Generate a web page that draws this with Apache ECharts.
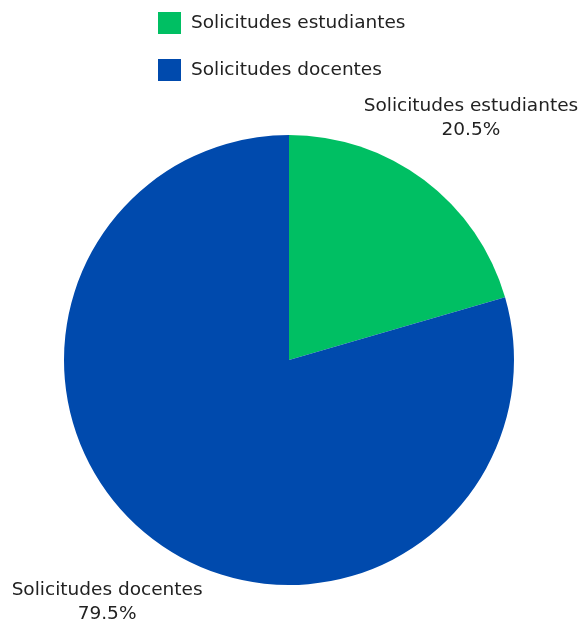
<!DOCTYPE html>
<html><head><meta charset="utf-8">
<script src="https://cdn.jsdelivr.net/npm/echarts@6/dist/echarts.min.js"></script>
<style>html,body{margin:0;padding:0;background:#fff}#c{width:587px;height:623px}</style>
</head><body><div id="c"></div>
<script>
const categories = ['Solicitudes estudiantes', 'Solicitudes docentes'];
const values = [20.5, 79.5];
const colors = ['#00bf63', '#004aad'];

const FONT = 'DejaVu Sans';
const chart = echarts.init(document.getElementById('c'));
const data = categories.map((n, i) => ({ name: n, value: values[i], itemStyle: { color: colors[i] } }));
chart.setOption({
  animation: false,
  legend: {
    orient: 'vertical', left: 153, top: 7,
    itemWidth: 23, itemHeight: 22, itemGap: 25, icon: 'rect',
    textStyle: { fontFamily: FONT, fontSize: 18.5, color: '#222', padding: [0, 0, 0, 5] },
    data: categories
  },
  series: [
    {
      type: 'pie', center: [289, 360], radius: 225, startAngle: 90, clockwise: true,
      label: { show: false }, labelLine: { show: false },
      data: data
    },
    {
      type: 'pie', center: [289, 360], radius: [297, 303], startAngle: 90, clockwise: true,
      silent: true,
      itemStyle: { color: 'rgba(0,0,0,0)' },
      label: {
        show: true, position: 'inside', fontFamily: FONT, fontSize: 18.5, color: '#222',
        lineHeight: 24, align: 'center',
        formatter: p => p.name + '\n' + p.value.toFixed(1) + '%'
      },
      labelLine: { show: false },
      data: categories.map((n, i) => ({ name: n, value: values[i] }))
    }
  ]
});
</script></body></html>
